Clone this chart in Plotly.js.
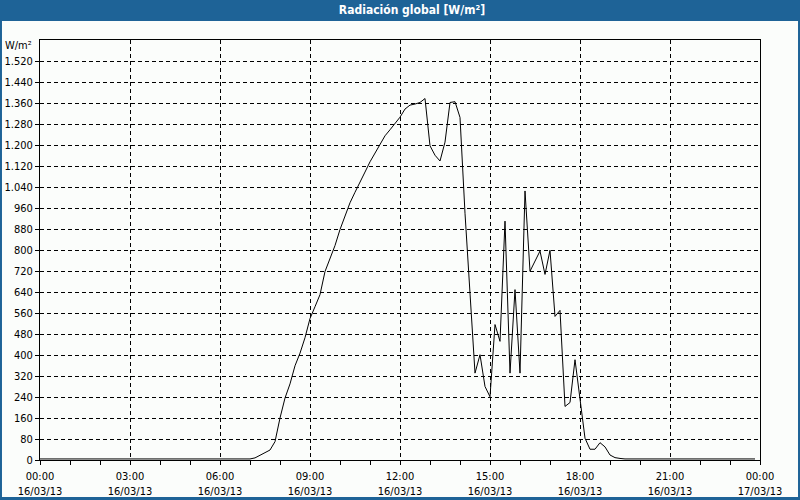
<!DOCTYPE html>
<html>
<head>
<meta charset="utf-8">
<script src="https://cdn.plot.ly/plotly-3.0.1.min.js"></script>
<style>
html,body{margin:0;padding:0;background:#1e6397;}
#chart{width:800px;height:500px;}
</style>
</head>
<body>
<div id="chart"></div>
<script>
// Time stamps (16/03/2013) and global radiation values [W/m²]
var times = [
  "2013-03-16 00:00","2013-03-16 01:00","2013-03-16 02:00","2013-03-16 03:00",
  "2013-03-16 04:00","2013-03-16 05:00","2013-03-16 06:00","2013-03-16 07:00",
  "2013-03-16 07:10","2013-03-16 07:20","2013-03-16 07:30","2013-03-16 07:40","2013-03-16 07:50",
  "2013-03-16 08:00","2013-03-16 08:10","2013-03-16 08:20","2013-03-16 08:30","2013-03-16 08:40","2013-03-16 08:50",
  "2013-03-16 09:00","2013-03-16 09:10","2013-03-16 09:20","2013-03-16 09:30","2013-03-16 09:40","2013-03-16 09:50",
  "2013-03-16 10:00","2013-03-16 10:10","2013-03-16 10:20","2013-03-16 10:30","2013-03-16 10:40","2013-03-16 10:50",
  "2013-03-16 11:00","2013-03-16 11:10","2013-03-16 11:20","2013-03-16 11:30","2013-03-16 11:40","2013-03-16 11:50",
  "2013-03-16 12:00","2013-03-16 12:10","2013-03-16 12:20","2013-03-16 12:30","2013-03-16 12:40","2013-03-16 12:50",
  "2013-03-16 13:00","2013-03-16 13:10","2013-03-16 13:20","2013-03-16 13:30","2013-03-16 13:40","2013-03-16 13:50",
  "2013-03-16 14:00","2013-03-16 14:10","2013-03-16 14:20","2013-03-16 14:30","2013-03-16 14:40","2013-03-16 14:50",
  "2013-03-16 15:00","2013-03-16 15:10","2013-03-16 15:20","2013-03-16 15:30","2013-03-16 15:40","2013-03-16 15:50",
  "2013-03-16 16:00","2013-03-16 16:10","2013-03-16 16:20","2013-03-16 16:30","2013-03-16 16:40","2013-03-16 16:50",
  "2013-03-16 17:00","2013-03-16 17:10","2013-03-16 17:20","2013-03-16 17:30","2013-03-16 17:40","2013-03-16 17:50",
  "2013-03-16 18:00","2013-03-16 18:10","2013-03-16 18:20","2013-03-16 18:30","2013-03-16 18:40","2013-03-16 18:50",
  "2013-03-16 19:00","2013-03-16 19:10","2013-03-16 19:20","2013-03-16 19:30",
  "2013-03-16 20:00","2013-03-16 21:00","2013-03-16 22:00","2013-03-16 23:00","2013-03-16 23:50"
];
var radiation = [
  4,4,4,4,
  4,4,4,4,
  8,19,28,38,70,
  160,236,290,359,407,466,
  539,584,630,718,768,817,
  878,930,980,1020,1056,1097,
  1136,1169,1201,1235,1258,1281,
  1306,1337,1352,1356,1362,1377,
  1197,1161,1139,1211,1362,1365,
  1305,940,620,331,401,280,
  241,516,452,910,331,649,
  331,1025,719,757,796,707,
  799,547,570,204,219,382,
  242,83,41,41,66,50,
  19,9,6,4,
  4,4,4,4,4
];
var yTickVals = [0,80,160,240,320,400,480,560,640,720,800,880,960,1040,1120,1200,1280,1360,1440,1520];
var chartTitle = "Radiación global [W/m²]";
var unitLabel = "W/m²";

var FONT = "DejaVu Sans Condensed, Liberation Sans, sans-serif";

var trace = {
  type: "scatter",
  mode: "lines",
  x: times,
  y: radiation,
  line: {color: "#000000", width: 1},
  hoverinfo: "skip"
};

var layout = {
  width: 800,
  height: 500,
  margin: {l: 40, r: 40, t: 40, b: 40, pad: 0},
  paper_bgcolor: "#1e6397",
  plot_bgcolor: "#fbfdfb",
  separators: ",.",
  showlegend: false,
  font: {family: FONT, size: 11, color: "#000000"},
  title: {
    text: "<b>" + chartTitle + "</b>",
    font: {family: FONT, size: 12, color: "#ffffff"},
    xref: "container", x: 0.515, xanchor: "center",
    yref: "container", y: 0.98, yanchor: "middle"
  },
  xaxis: {
    type: "date",
    range: ["2013-03-16 00:00", "2013-03-17 00:00"],
    tickmode: "linear",
    tick0: "2013-03-16 00:00",
    dtick: 10800000,
    tickformat: "%H:%M<br>%d/%m/%y",
    ticks: "outside",
    ticklen: 4,
    ticklabelstandoff: 2,
    tickcolor: "#000000",
    tickfont: {family: FONT, size: 11, color: "#000000"},
    showgrid: true,
    gridcolor: "#000000",
    gridwidth: 1,
    griddash: "4px,3px",
    showline: true,
    linecolor: "#000000",
    linewidth: 1,
    mirror: true,
    zeroline: false,
    fixedrange: true,
    minor: {
      dtick: 3600000,
      tick0: "2013-03-16 00:00",
      ticks: "outside",
      ticklen: 4,
      tickcolor: "#000000",
      showgrid: false
    }
  },
  yaxis: {
    range: [0, 1600],
    tickmode: "array",
    tickvals: yTickVals,
    tickformat: ",d",
    ticks: "outside",
    ticklen: 4,
    tickcolor: "#000000",
    tickfont: {family: FONT, size: 11, color: "#000000"},
    showgrid: true,
    gridcolor: "#000000",
    gridwidth: 1,
    griddash: "4px,3px",
    showline: true,
    linecolor: "#000000",
    linewidth: 1,
    mirror: true,
    zeroline: false,
    fixedrange: true
  },
  shapes: [{
    type: "rect",
    xref: "paper", yref: "paper",
    x0: -0.0528, x1: 1.0528,
    y0: -0.0881, y1: 1.0452,
    fillcolor: "#fbfdfb",
    line: {width: 0},
    layer: "below"
  }],
  annotations: [{
    text: unitLabel,
    xref: "paper", yref: "paper",
    x: -0.008, y: 0.988,
    xanchor: "right", yanchor: "middle",
    showarrow: false,
    font: {family: FONT, size: 11, color: "#000000"}
  }]
};

Plotly.newPlot("chart", [trace], layout, {staticPlot: true, displayModeBar: false});
</script>
</body>
</html>
